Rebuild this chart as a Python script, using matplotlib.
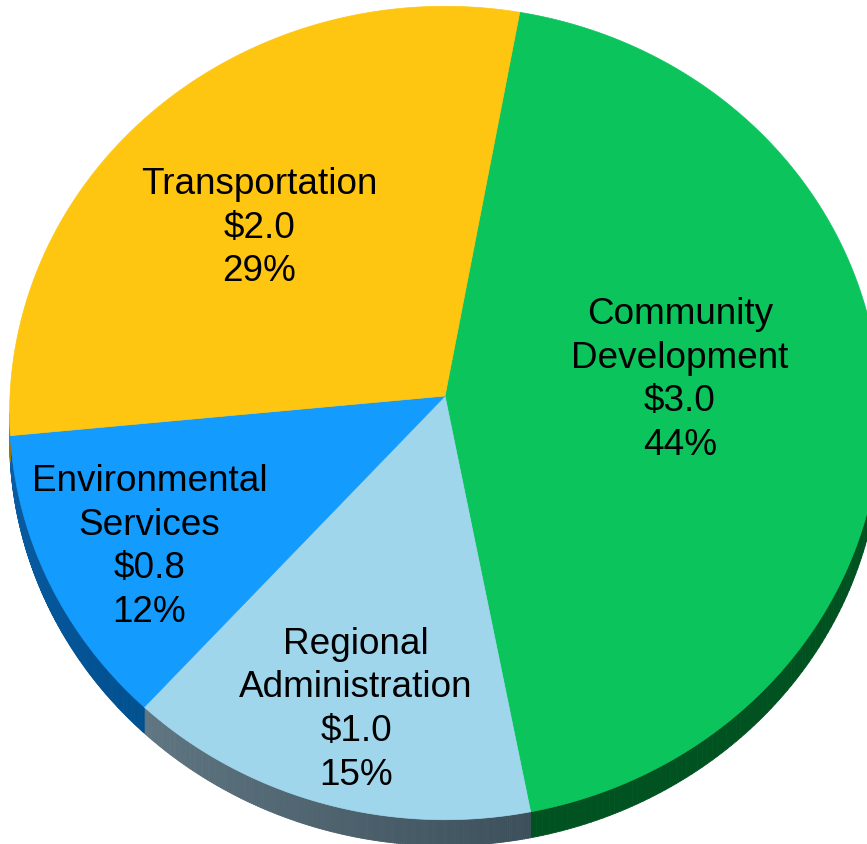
import numpy as np
import matplotlib.pyplot as plt
from matplotlib.patches import Polygon
from matplotlib.collections import PolyCollection
from matplotlib.colors import to_rgb

# --- data (clockwise from the top) ---
categories = ['Community\nDevelopment', 'Regional\nAdministration',
              'Environmental\nServices', 'Transportation']
values = [3.0, 1.0, 0.8, 2.0]

# --- styles ---
top_colors = ['#0bc45c', '#a0d6ec', '#139bfe', '#fec511']
# (colour at slice start, colour at slice end), going clockwise
side_colors = [('#004d1e', '#005321'), ('#3c505b', '#5f7682'),
               ('#00508f', '#0b5da4'), ('#9a7500', '#9a7500')]
label_r = [0.54, 0.77, 0.76, 0.60]
label_nudge = [(0, -16), (4, 2), (4, 9), (-12, 7)]

# pie geometry in pixels (slightly tilted, perspective)
cx, cy = 445, 397
rx, ry = 435, 406
k = -0.0418
depth = 26
start = 10.3


def project(theta_deg, r=1.0):
    t = np.radians(theta_deg)
    u = r * np.sin(t)
    v = -r * np.cos(t)
    w = 1 + k * v
    return cx + rx * u / w, cy + ry * v / w, v


fig = plt.figure(figsize=(8.67, 8.45), dpi=100)
ax = fig.add_axes([0, 0, 1, 1])
ax.set_xlim(0, 867)
ax.set_ylim(845, 0)
ax.axis('off')

total = sum(values)
spans = [v / total * 360 for v in values]
edges = start + np.concatenate([[0], np.cumsum(spans)])

# 1. side walls (front half only)
for i in range(len(values)):
    th = np.linspace(edges[i], edges[i + 1], 200)
    x, y, v = project(th)
    c0, c1 = np.array(to_rgb(side_colors[i][0])), np.array(to_rgb(side_colors[i][1]))
    quads, cols = [], []
    for j in range(len(th) - 1):
        if v[j] < 0.05 and v[j + 1] < 0.05:
            continue
        quads.append([(x[j], y[j]), (x[j + 1], y[j + 1]),
                      (x[j + 1], y[j + 1] + depth), (x[j], y[j] + depth)])
        f = j / (len(th) - 2)
        cols.append(c0 * (1 - f) + c1 * f)
    if quads:
        pc = PolyCollection(quads, facecolors=cols, edgecolors=cols, linewidths=0.6)
        ax.add_collection(pc)

# 2. top surfaces
for i in range(len(values)):
    th = np.linspace(edges[i], edges[i + 1], 300)
    x, y, _ = project(th)
    pts = [(cx, cy)] + list(zip(x, y))
    ax.add_patch(Polygon(pts, closed=True, facecolor=top_colors[i],
                         edgecolor=top_colors[i], linewidth=0.5))

# 3. labels
for i, (cat, val) in enumerate(zip(categories, values)):
    mid = (edges[i] + edges[i + 1]) / 2
    lx, ly, _ = project(mid, label_r[i])
    pct = round(val / total * 100)
    txt = f"{cat}\n\\${val:.1f}\n{pct}%"
    ax.text(lx + label_nudge[i][0], ly + label_nudge[i][1], txt,
            ha='center', va='center', multialignment='center',
            fontsize=26.6, family='Liberation Sans', color='black',
            linespacing=1.32)

plt.savefig('out.png', dpi=100)
